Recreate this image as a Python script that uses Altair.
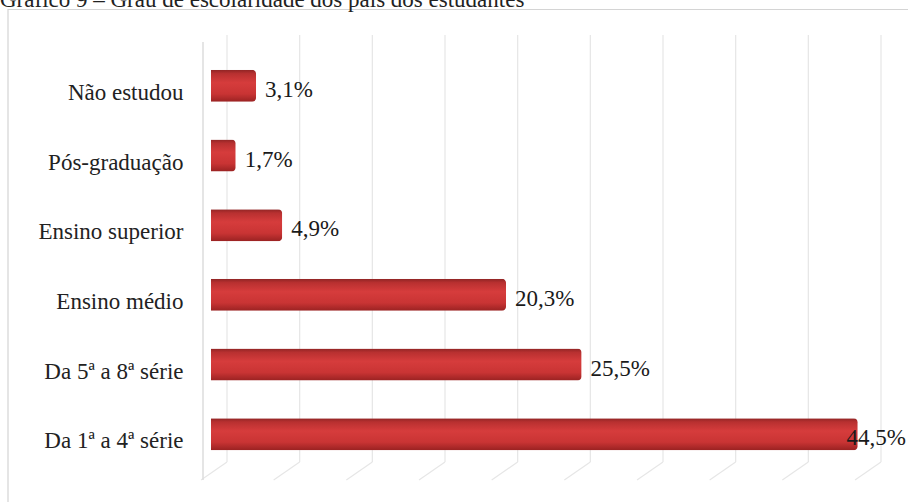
import altair as alt
import pandas as pd

categories = ["Não estudou", "Pós-graduação", "Ensino superior", "Ensino médio",
              "Da 5ª a 8ª série", "Da 1ª a 4ª série"]
values = [3.1, 1.7, 4.9, 20.3, 25.5, 44.5]
labels = ["3,1%", "1,7%", "4,9%", "20,3%", "25,5%", "44,5%"]
grid_ticks = [0, 5, 10, 15, 20, 25, 30, 35, 40, 45]
title_text = "Gráfico 9 – Grau de escolaridade dos pais dos estudantes"

W, H = 654, 418
FONT = "Liberation Serif"

df = pd.DataFrame({"cat": categories, "v": values, "lab": labels})
gdf = pd.DataFrame({"t": grid_ticks})
one = pd.DataFrame({"a": [0]})

xscale = alt.Scale(domain=[0, 45], nice=False, zero=True)
yscale = alt.Scale(domain=categories, paddingInner=0.54, paddingOuter=0.27)

border = alt.Chart(one).mark_rect(fill=None, stroke="#d4d4d4", strokeWidth=1.2).encode(
    x=alt.value(-203), y=alt.value(-41.5), x2=alt.value(W + 80), y2=alt.value(H + 80)
)

title = alt.Chart(one).mark_text(
    text=title_text, font=FONT, fontSize=23, align="left", baseline="alphabetic", color="#222"
).encode(x=alt.value(-211), y=alt.value(-44))

grid = alt.Chart(gdf).mark_rule(color="#e6e6e6", strokeWidth=1.2, xOffset=16, x2Offset=16).encode(
    x=alt.X("t:Q", scale=xscale, axis=None),
    y=alt.value(-16), y2=alt.value(411)
)
floor = alt.Chart(gdf).mark_rule(color="#e6e6e6", strokeWidth=1.2, xOffset=16, x2Offset=-10).encode(
    x=alt.X("t:Q", scale=xscale, axis=None),
    x2="t:Q",
    y=alt.value(411), y2=alt.value(429)
)
wall = alt.Chart(one).mark_rule(color="#dcdcdc", strokeWidth=1.5).encode(
    x=alt.value(-8), y=alt.value(-9), y2=alt.value(429)
)

grad = alt.Gradient(
    gradient="linear", x1=0, y1=0, x2=0, y2=1,
    stops=[
        alt.GradientStop(color="#8f2424", offset=0),
        alt.GradientStop(color="#b83030", offset=0.12),
        alt.GradientStop(color="#d63c3c", offset=0.4),
        alt.GradientStop(color="#c93434", offset=0.75),
        alt.GradientStop(color="#9a2222", offset=1),
    ],
)

bars = alt.Chart(df).mark_bar(color=grad, cornerRadiusEnd=4).encode(
    x=alt.X("v:Q", scale=xscale, axis=None),
    y=alt.Y("cat:N", scale=yscale, sort=categories, title=None,
            axis=alt.Axis(domain=False, ticks=False, tickSize=0, labelPadding=28,
                          labelFont=FONT, labelFontSize=23, labelColor="#222",
                          labelOffset=7, labelLimit=300)),
)

texts = alt.Chart(df).transform_calculate(
    pos="min(datum.v, 43.1)"
).mark_text(font=FONT, fontSize=23, align="left", baseline="middle", dx=9, dy=4, color="#1a1a1a").encode(
    x=alt.X("pos:Q", scale=xscale, axis=None),
    y=alt.Y("cat:N", scale=yscale, sort=categories),
    text="lab:N",
)

chart = alt.layer(border, grid, floor, wall, bars, texts, title).properties(
    width=W, height=H,
    padding={"left": 211, "top": 51, "right": 908 - 211 - W, "bottom": 502 - 51 - H},
    autosize=alt.AutoSizeParams(type="none"),
    background="white",
).configure_view(stroke=None)

chart.save("out.html", embed_options={"renderer": "svg", "actions": False})
